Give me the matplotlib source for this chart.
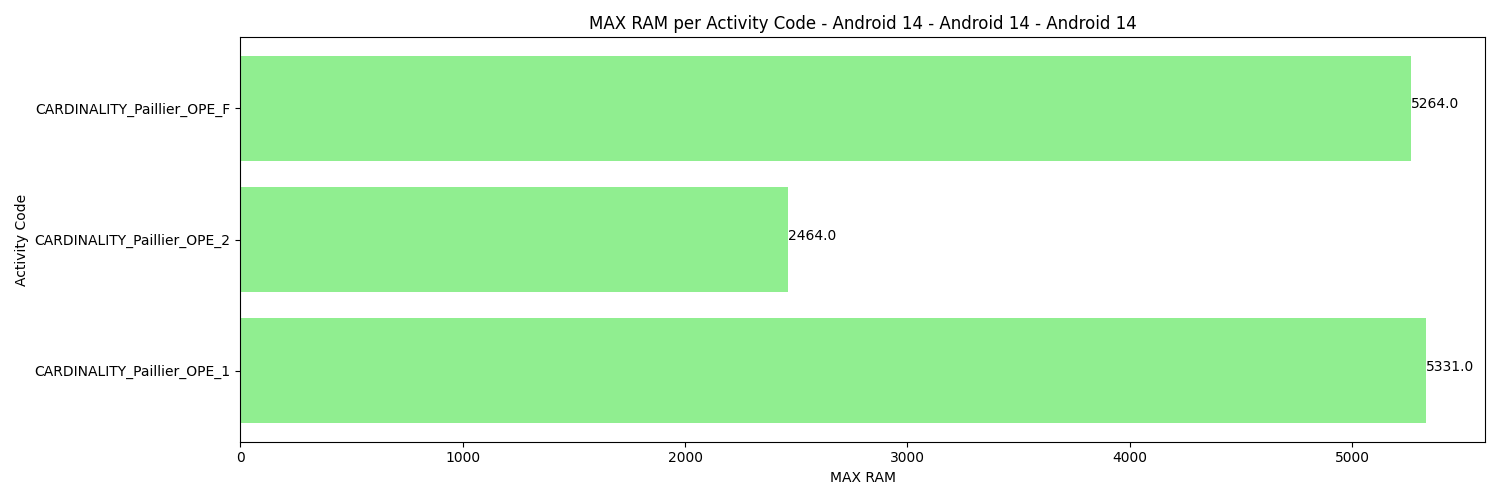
import matplotlib
matplotlib.use("Agg")
import matplotlib.pyplot as plt

# Data
activity_codes = ["CARDINALITY_Paillier_OPE_1", "CARDINALITY_Paillier_OPE_2", "CARDINALITY_Paillier_OPE_F"]
max_ram = [5331.0, 2464.0, 5264.0]

fig, ax = plt.subplots(figsize=(15, 5), dpi=100)
bars = ax.barh(activity_codes, max_ram, color="lightgreen")

# value labels at the end of each bar
for i, v in enumerate(max_ram):
    ax.text(v, i, str(v))

ax.set_xlabel("MAX RAM")
ax.set_ylabel("Activity Code")
ax.set_title("MAX RAM per Activity Code - Android 14 - Android 14 - Android 14")

plt.tight_layout()
plt.savefig("out.png")
